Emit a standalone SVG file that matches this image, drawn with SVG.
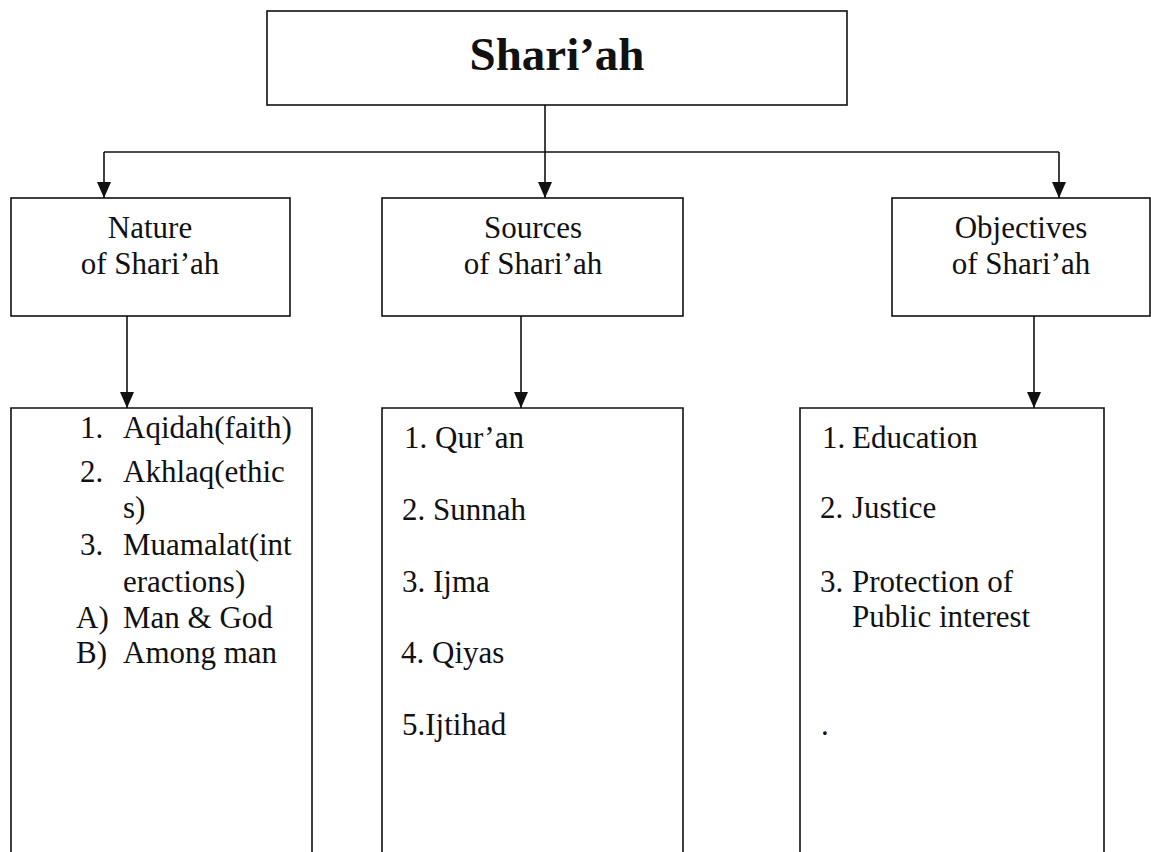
<svg xmlns="http://www.w3.org/2000/svg" width="1151" height="852" viewBox="0 0 1151 852">
<style>
.box{fill:#fff;stroke:#111;stroke-width:1.6}
.ln{fill:none;stroke:#111;stroke-width:1.6}
.t{font-family:"Liberation Serif","Times New Roman",serif;fill:#111;font-size:31px}
.c{text-anchor:middle}
.title{font-family:"Liberation Serif","Times New Roman",serif;fill:#111;font-size:47px;font-weight:bold;text-anchor:middle}
</style>
<defs>
<marker id="ah" markerUnits="userSpaceOnUse" viewBox="0 0 16 14" markerWidth="16" markerHeight="14" refX="16" refY="7" orient="auto">
<path d="M0,0 L16,7 L0,14 Z" fill="#111"/>
</marker>
</defs>
<rect width="1151" height="852" fill="#fff"/>
<g id="connectors">
<path class="ln" d="M545,105 V152"/>
<path class="ln" d="M104,152 H1059"/>
<path class="ln" d="M104,152 V198" marker-end="url(#ah)"/>
<path class="ln" d="M545,152 V198" marker-end="url(#ah)"/>
<path class="ln" d="M1059,152 V198" marker-end="url(#ah)"/>
<path class="ln" d="M127,316 V408" marker-end="url(#ah)"/>
<path class="ln" d="M521,316 V408" marker-end="url(#ah)"/>
<path class="ln" d="M1034,316 V408" marker-end="url(#ah)"/>
</g>
<g id="shariah">
<rect class="box" x="267" y="11" width="580" height="94"/>
<text class="title" x="557" y="70">Shari’ah</text>
</g>
<g id="nature">
<rect class="box" x="11" y="198" width="279" height="118"/>
<text class="t c" x="150" y="238">Nature</text>
<text class="t c" x="150" y="274">of Shari’ah</text>
</g>
<g id="sources">
<rect class="box" x="382" y="198" width="301" height="118"/>
<text class="t c" x="533" y="238">Sources</text>
<text class="t c" x="533" y="274">of Shari’ah</text>
</g>
<g id="objectives">
<rect class="box" x="892" y="198" width="258" height="118"/>
<text class="t c" x="1021" y="238">Objectives</text>
<text class="t c" x="1021" y="274">of Shari’ah</text>
</g>
<g id="nature-list">
<path class="ln" d="M11,852 V408 H312 V852"/>
<text class="t" x="80" y="438">1.</text><text class="t" x="123" y="438">Aqidah(faith)</text>
<text class="t" x="80" y="482">2.</text><text class="t" x="123" y="482">Akhlaq(ethic</text>
<text class="t" x="123" y="518">s)</text>
<text class="t" x="80" y="555">3.</text><text class="t" x="123" y="555">Muamalat(int</text>
<text class="t" x="123" y="592">eractions)</text>
<text class="t" x="76" y="628">A)</text><text class="t" x="123" y="628">Man &amp; God</text>
<text class="t" x="76" y="663">B)</text><text class="t" x="123" y="663">Among man</text>
</g>
<g id="sources-list">
<path class="ln" d="M382,852 V408 H683 V852"/>
<text class="t" x="404" y="448">1. Qur’an</text>
<text class="t" x="402" y="520">2. Sunnah</text>
<text class="t" x="402" y="592">3. Ijma</text>
<text class="t" x="401" y="663">4. Qiyas</text>
<text class="t" x="402" y="735">5.Ijtihad</text>
</g>
<g id="objectives-list">
<path class="ln" d="M800,852 V408 H1104 V852"/>
<text class="t" x="822" y="448">1.</text><text class="t" x="852" y="448">Education</text>
<text class="t" x="820" y="518">2.</text><text class="t" x="852" y="518">Justice</text>
<text class="t" x="820" y="592">3.</text><text class="t" x="852" y="592">Protection of</text>
<text class="t" x="852" y="627">Public interest</text>
<text class="t" x="821" y="735">.</text>
</g>
</svg>
